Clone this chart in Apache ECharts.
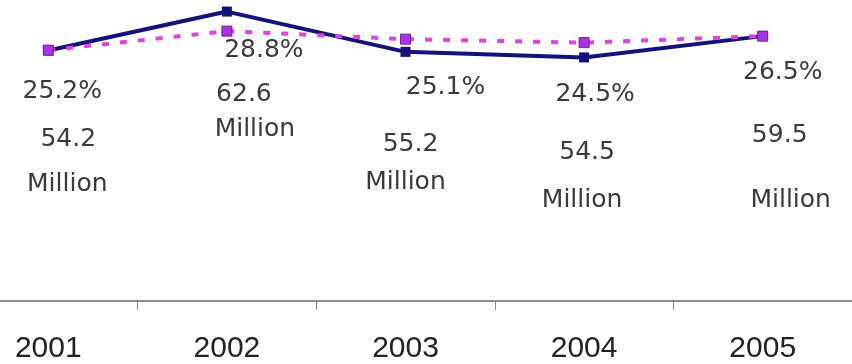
<!DOCTYPE html>
<html>
<head>
<meta charset="utf-8">
<script src="https://cdn.jsdelivr.net/npm/echarts@6/dist/echarts.min.js"></script>
<style>
html,body{margin:0;padding:0;background:#fff;}
#c{width:852px;height:364px;}
</style>
</head>
<body>
<div id="c"></div>
<script>
// Categories
var years = ['2001', '2002', '2003', '2004', '2005'];
// Plotted positions of the navy line (millions scale)
var navyPlotted = [54.1, 62.5, 53.8, 52.6, 57.2];
// Plotted positions of the magenta dotted line (percent scale)
var pinkPlotted = [25.0, 26.9, 26.1, 25.75, 26.4];
// Label texts
var millionLabels = ['54.2', '62.6', '55.2', '54.5', '59.5'];
var percentLabels = ['25.2%', '28.8%', '25.1%', '24.5%', '26.5%'];

// Label offsets (layout, px relative to point)
var pctOffsets = [[14, 41], [37, 19], [40, 48], [11, 52], [20, 36]];
var numOffsets = [[20, 89], [17, 83], [5, 93], [3, 95], [17, 99]];
var milOffsets = [[19, 134], [28, 118], [0, 131], [-2, 143], [28, 164]];

var labelFont = {fontFamily: 'DejaVu Sans', fontSize: 25, color: '#3a3a3a'};

function labelSeries(axisIdx, values, texts, offsets) {
  return {
    type: 'line', yAxisIndex: axisIdx, z: 5,
    symbol: 'circle', symbolSize: 2, showSymbol: true, showAllSymbol: true,
    itemStyle: {color: 'rgba(0,0,0,0)', borderWidth: 0},
    lineStyle: {width: 0, color: 'rgba(0,0,0,0)'}, silent: true,
    label: Object.assign({
      show: true, position: 'inside', align: 'center', verticalAlign: 'middle',
      formatter: function (p) { return texts[p.dataIndex]; }
    }, labelFont),
    labelLayout: function (params) {
      var o = offsets[params.dataIndex];
      return {dx: o[0], dy: o[1], hideOverlap: false};
    },
    data: values
  };
}

var chart = echarts.init(document.getElementById('c'), null, {renderer: 'canvas'});
chart.setOption({
  animation: false,
  backgroundColor: '#ffffff',
  grid: {left: -41, width: 893, top: 0, bottom: 63, containLabel: false, outerBoundsMode: 'none'},
  xAxis: {
    type: 'category',
    data: years,
    boundaryGap: true,
    axisLine: {show: true, lineStyle: {color: '#8c8c8c', width: 2}},
    axisTick: {show: true, length: 9, lineStyle: {color: '#8c8c8c', width: 1}},
    axisLabel: {fontFamily: 'Liberation Sans', fontSize: 30, color: '#222', margin: 33},
    splitLine: {show: false}
  },
  yAxis: [
    {type: 'value', min: 0, max: 65, show: false},
    {type: 'value', min: 0, max: 30, show: false}
  ],
  series: [
    {
      type: 'line', yAxisIndex: 0, z: 2,
      data: navyPlotted,
      symbol: 'rect', symbolSize: 10,
      lineStyle: {color: '#12127a', width: 4},
      itemStyle: {color: '#12127a'}
    },
    {
      type: 'line', yAxisIndex: 1, z: 3,
      data: pinkPlotted,
      symbol: 'rect', symbolSize: 10,
      lineStyle: {color: '#dd44dd', width: 4, type: [7, 11]},
      itemStyle: {color: '#a435e0', borderColor: '#7a1aa8', borderWidth: 1}
    },
    labelSeries(1, pinkPlotted, percentLabels, pctOffsets),
    labelSeries(0, navyPlotted, millionLabels, numOffsets),
    labelSeries(0, navyPlotted, millionLabels.map(function () { return 'Million'; }), milOffsets)
  ]
});
</script>
</body>
</html>
